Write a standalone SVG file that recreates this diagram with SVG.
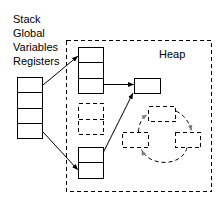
<svg xmlns="http://www.w3.org/2000/svg" width="224" height="204" viewBox="0 0 224 204">
<defs>
<style>
.box{fill:none;stroke:#000;stroke-width:1;shape-rendering:crispEdges}
.dash{fill:none;stroke:#000;stroke-width:1;stroke-dasharray:4 3;shape-rendering:crispEdges}
.ln{fill:none;stroke:#000;stroke-width:1}
.dln{fill:none;stroke:#000;stroke-width:1;stroke-dasharray:4 3}
text{font-family:"Liberation Sans",Arial,sans-serif;font-size:11px;fill:#000}
</style>
<marker id="ah" viewBox="0 0 10 10" refX="10" refY="5" markerWidth="6" markerHeight="6" markerUnits="userSpaceOnUse" orient="auto">
<path d="M0,1 L10,5 L0,9 Z" fill="#000"/>
</marker>
<marker id="ag" viewBox="0 0 10 10" refX="10" refY="5" markerWidth="6" markerHeight="6" markerUnits="userSpaceOnUse" orient="auto">
<path d="M0,1 L10,5 L0,9 Z" fill="#808080"/>
</marker>
</defs>
<rect width="224" height="204" fill="#fff"/>
<g id="labels">
<text x="13" y="23">Stack</text>
<text x="13" y="37">Global</text>
<text x="13" y="51">Variables</text>
<text x="13" y="65">Registers</text>
</g>
<g id="heap">
<rect class="dash" x="66.5" y="40.5" width="145" height="151"/>
<text x="159" y="58">Heap</text>
</g>
<g id="stack">
<rect class="box" x="17.5" y="77.5" width="25" height="61"/>
<path class="box" d="M17.5,92.5H42.5M17.5,108.5H42.5M17.5,123.5H42.5"/>
</g>
<g id="array-top">
<rect class="box" x="78.5" y="47.5" width="25" height="46"/>
<path class="box" d="M78.5,62.5H103.5M78.5,78.5H103.5"/>
</g>
<g id="array-dashed">
<rect class="dash" x="78.5" y="103.5" width="25" height="31"/>
<path class="dash" d="M78.5,119.5H103.5"/>
</g>
<g id="array-bottom">
<rect class="box" x="78.5" y="147.5" width="25" height="31"/>
<path class="box" d="M78.5,162.5H103.5"/>
</g>
<g id="heap-box">
<rect class="box" x="134.5" y="78.5" width="26" height="15"/>
</g>
<g id="cycle-top">
<rect class="dash" x="148.5" y="106.5" width="27" height="15"/>
</g>
<g id="cycle-left">
<rect class="dash" x="122.5" y="132.5" width="26" height="15"/>
</g>
<g id="cycle-right">
<rect class="dash" x="175.5" y="132.5" width="25" height="15"/>
</g>
<g id="connectors">
<path class="ln" d="M43,85 L78,56" marker-end="url(#ah)"/>
<path class="ln" d="M43,132 L78,170" marker-end="url(#ah)"/>
<path class="ln" d="M103.5,84.5 L134,84.5" marker-end="url(#ah)"/>
<path class="ln" d="M103.5,152 L133,93" marker-end="url(#ah)"/>
<path class="dln" d="M138.5,132 Q139,120 147.5,114.5" marker-end="url(#ag)"/>
<path class="dln" d="M176,111 Q188,117 191.5,131" marker-end="url(#ag)"/>
<path class="dln" d="M187,147.5 C183,166 150,168 141.5,149.5" marker-end="url(#ag)"/>
</g>
</svg>
